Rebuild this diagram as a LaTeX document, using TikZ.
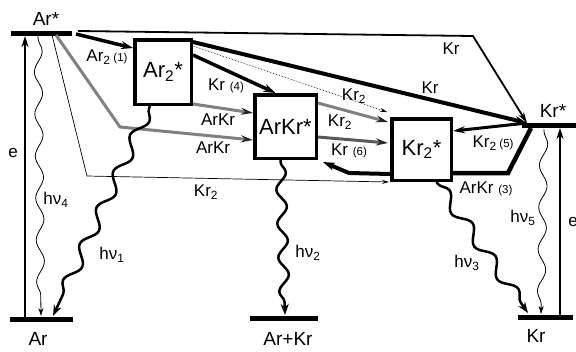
\documentclass[tikz,border=0pt]{standalone}
\usepackage{fontspec}
\setmainfont{Liberation Sans}
\usetikzlibrary{arrows.meta,decorations.pathmorphing}
\newcommand\fs[1]{\fontsize{#1}{#1}\selectfont}
\newcommand\smn[1]{{\fs{11.5}#1}}
\begin{document}
\begin{tikzpicture}[x=1pt,y=-1pt,
  lvl/.style={line width=5pt},
  bx/.style={draw, line width=3.5pt, inner sep=0pt, font=\fs{22}},
  lbl/.style={inner sep=0pt, font=\fs{17}},
  big/.style={inner sep=0pt, font=\fs{19}},
  blk/.style={line width=3.5pt, -{Stealth[length=12pt,width=8pt]}},
  gry/.style={line width=3pt, draw=black!50, -{Stealth[length=12pt,width=7pt,color=black!85]}},
  thn/.style={line width=0.7pt, -{Stealth[length=7pt,width=4pt]}},
  ebar/.style={line width=2.6pt, -{Stealth[length=11pt,width=7pt]}},
  thinwave/.style={line width=0.8pt, -{Stealth[length=8pt,width=5pt]}, decorate,
    decoration={snake, amplitude=4pt, segment length=42pt, pre length=2pt, post length=8pt}},
  thickwave/.style={line width=2.5pt, -{Stealth[length=11pt,width=8pt]}, decorate,
    decoration={snake, amplitude=#1, segment length=40pt, pre length=2pt, post length=10pt}},
]
\useasboundingbox (0,0) rectangle (576,351);
\clip (0,0) rectangle (576,351);

% levels
\coordinate (ArsL) at (11,33);  \coordinate (ArsR) at (72,33);
\coordinate (ArL) at (10,319);  \coordinate (ArR) at (73,319);
\coordinate (AKL) at (250,318); \coordinate (AKR) at (318,318);
\coordinate (KrL) at (518,317); \coordinate (KrR) at (573,317);
\coordinate (KrsL) at (522,125); \coordinate (KrsR) at (580,125);
\draw[lvl] (ArsL) -- (ArsR);
\draw[lvl] (ArL) -- (ArR);
\draw[lvl] (AKL) -- (AKR);
\draw[lvl] (KrL) -- (KrR);
\draw[lvl] (KrsL) -- (KrsR);

\node[big] (tArs) at (46,19) {Ar*};
\node[big] (tAr) at (38,339) {Ar};
\node[big] (tAK) at (288,339) {Ar+Kr};
\node[big] (tKr) at (536,336) {Kr};
\node[big] (tKrs) at (553,111) {Kr*};

% boxes
\node[bx, minimum width=56.5pt, minimum height=64.5pt] (ar2) at (163,72) {Ar\textsubscript{2}*};
\node[bx, minimum width=61.5pt, minimum height=63.5pt] (arkr) at (285.5,126.5) {ArKr*};
\node[bx, minimum width=59.5pt, minimum height=61.5pt] (kr2) at (421.5,149.5) {Kr\textsubscript{2}*};

% helper coordinates
\coordinate (a1) at (76,34);
\coordinate (t0) at (78,31);
\coordinate (t1) at (473,36);
\coordinate (krs) at (527,123);
\coordinate (g0) at (56,35);
\coordinate (g1) at (120,127);
\coordinate (n0) at (52,35);
\coordinate (n1) at (87,176);
\coordinate (k3a) at (531,128);
\coordinate (k3b) at (508,173);
\coordinate (k6a) at (349,173);
\coordinate (eL0) at (25,317); \coordinate (eL1) at (25,36);
\coordinate (eR0) at (560,315); \coordinate (eR1) at (560,128);

% excitation
\draw[ebar] (eL0) -- (eL1);
\draw[ebar] (eR0) -- (eR1);
\node[lbl] (te1) at (13,153) {e};
\node[lbl] (te2) at (573,222) {e};

% Ar* channels
\draw[blk] (a1) -- ([yshift=-10pt]ar2.north west);
\node[lbl] (l1) at (107,57) {Ar\textsubscript{2}\,\smn{(1)}};
\draw[line width=1.8pt, -{Stealth[length=11pt,width=6pt]}] (t0) -- (t1) -- (krs);
\node[lbl] (lKr1) at (451,49) {Kr};
\draw[gry] (g0) -- (g1) -- ([yshift=20pt]arkr.south west);
\node[lbl] (lAK2) at (213,148) {ArKr};
\draw[thn] (n0) -- (n1) -- ([xshift=-1pt]kr2.south west);
\node[lbl] (lKr2c) at (206,192) {Kr\textsubscript{2}};

% Ar2* channels
\draw[line width=4pt, -{Stealth[length=12pt,width=8pt]}] ([yshift=-4pt]ar2.north east) -- (krs);
\node[lbl] (lKr2) at (430,88) {Kr};
\draw[line width=0.6pt, densely dotted, -{Stealth[length=7pt,width=4pt]}] ([yshift=-8pt]ar2.north east) -- ([xshift=-3pt,yshift=5pt]kr2.north west);
\node[lbl] (lKr2a) at (354,96) {Kr\textsubscript{2}};
\draw[blk] ([yshift=-17pt]ar2.north east) -- ([xshift=-10pt]arkr.north);
\node[lbl] (l4) at (226,86) {Kr \smn{(4)}};
\draw[gry] ([yshift=2pt]ar2.south east) -- ([yshift=-20pt]arkr.north west);
\node[lbl] (lAK1) at (218,120) {ArKr};

% ArKr* channels
\draw[gry] ([yshift=-10pt]arkr.north east) -- ([xshift=-2pt,yshift=-5pt]kr2.north west);
\node[lbl] (lKr2b) at (340,122) {Kr\textsubscript{2}};
\draw[gry, draw=black!65] ([yshift=-44pt]arkr.north east) -- ([xshift=-2pt,yshift=6.5pt]kr2.west);
\node[lbl] (l6) at (349,151) {Kr \smn{(6)}};

% Kr2* -> ArKr*
\draw[line width=4pt, -{Stealth[length=12pt,width=8pt]}] ([yshift=8pt]kr2.south west) -- (k6a) -- ([xshift=5pt,yshift=-2pt]arkr.south east);

% Kr* channels
\draw[line width=3pt, -{Stealth[length=12pt,width=7pt]}] (krs) -- ([yshift=-14pt]kr2.north east);
\node[lbl] (l5) at (493,143) {Kr\textsubscript{2}\,\smn{(5)}};
\draw[line width=4.5pt] (k3a) -- (k3b) -- ([yshift=9pt]kr2.south east);
\node[lbl] (l3) at (486,189) {ArKr \smn{(3)}};

% radiative
\draw[thinwave] (38,36) -- (41,316);
\node[lbl] (h4) at (56,200) {hν\textsubscript{4}};
\draw[thinwave] (544,129) -- (541,314);
\node[lbl] (h5) at (523,218) {hν\textsubscript{5}};
\draw[thickwave=6pt] ([xshift=-13pt]ar2.south) -- (53,316);
\node[lbl] (h1) at (112,255) {hν\textsubscript{1}};
\draw[thickwave=5pt, decoration={segment length=34pt}] ([xshift=-5pt]arkr.south) -- (285,315);
\node[lbl] (h2) at (308,253) {hν\textsubscript{2}};
\draw[thickwave=6pt] ([xshift=15pt]kr2.south) -- (528,313);
\node[lbl] (h3) at (467,263) {hν\textsubscript{3}};
\end{tikzpicture}
\end{document}
